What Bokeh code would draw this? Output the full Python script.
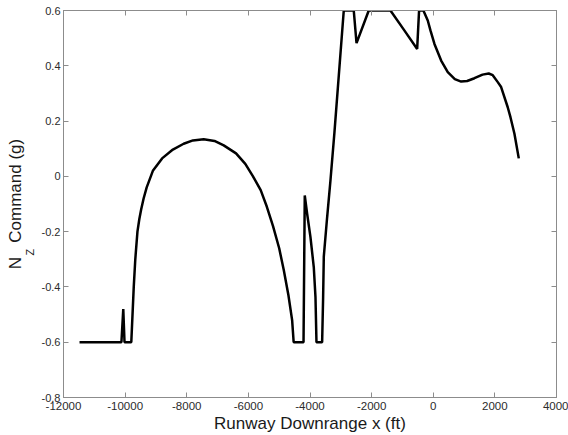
from bokeh.plotting import figure
from bokeh.models import LinearAxis, FixedTicker, Range1d, Title
from bokeh.embed import file_html
from bokeh.resources import INLINE

# Runway downrange x (ft) and Nz command (g)
x_ft = [-11480, -10120, -10060, -10020, -9800, -9760, -9720, -9670, -9600, -9540,
        -9480, -9400, -9300, -9100, -8800, -8450, -8100, -7800, -7450, -7100,
        -6800, -6400, -6100, -5850, -5600, -5400, -5200, -5000, -4850, -4700,
        -4580, -4530, -4210, -4170, -4092, -3985, -3877, -3822, -3790, -3606,
        -3574, -3552, -3444, -3336, -3206, -2904, -2580, -2490, -2093, -1389,
        -950, -522, -460, -320, -178, -91, 39, 256, 471, 700,
        905, 1100, 1337, 1600, 1800, 1931, 2100, 2203, 2417, 2506,
        2635, 2776]
nz_cmd = [-0.6, -0.6, -0.48, -0.6, -0.6, -0.5, -0.4, -0.3, -0.2, -0.155,
          -0.12, -0.08, -0.04, 0.02, 0.065, 0.097, 0.118, 0.13, 0.134, 0.128,
          0.112, 0.083, 0.045, 0.0, -0.05, -0.11, -0.18, -0.26, -0.34, -0.43,
          -0.52, -0.6, -0.6, -0.069, -0.136, -0.22, -0.329, -0.437, -0.6, -0.6,
          -0.437, -0.29, -0.148, -0.015, 0.16, 0.6, 0.6, 0.482, 0.6, 0.6,
          0.53, 0.461, 0.6, 0.6, 0.564, 0.528, 0.479, 0.419, 0.377, 0.352,
          0.343, 0.345, 0.355, 0.368, 0.372, 0.366, 0.34, 0.323, 0.25, 0.214,
          0.154, 0.065]

x_ticks = [-12000, -10000, -8000, -6000, -4000, -2000, 0, 2000, 4000]
x_tick_labels = ["-12000", "-10000", "-8000", "-6000", "-4000", "-2000", "0", "2000", "4000"]
y_ticks = [-0.8, -0.6, -0.4, -0.2, 0, 0.2, 0.4, 0.6]
y_tick_labels = ["-0.8", "-0.6", "-0.4", "-0.2", "0", "0.2", "0.4", "0.6"]

FONT = "Liberation Sans"
GREY = "#8c8c8c"
TXT = "#2b2b2b"
LBL = "#1a1a1a"

p = figure(width=568, height=435, output_backend="svg", toolbar_location=None,
           x_range=Range1d(-12000, 4000), y_range=Range1d(-0.8, 0.6),
           min_border_left=63, min_border_right=12, min_border_top=10, min_border_bottom=38,
           background_fill_color="white", border_fill_color="white")
p.xgrid.visible = False
p.ygrid.visible = False
p.outline_line_color = GREY
p.outline_line_width = 1

def style_axis(ax, ticks, labels, show):
    ax.ticker = FixedTicker(ticks=ticks)
    ax.major_label_overrides = {t: (l if show else "") for t, l in zip(ticks, labels)}
    ax.axis_line_color = GREY
    ax.major_tick_line_color = GREY
    ax.major_tick_in = 5
    ax.major_tick_out = 0
    ax.minor_tick_line_color = None
    ax.major_label_text_font = FONT
    ax.major_label_text_color = TXT
    ax.major_label_text_font_size = "11.5px" if show else "1px"
    ax.major_label_standoff = 4 if show else 0

style_axis(p.xaxis[0], x_ticks, x_tick_labels, True)
style_axis(p.yaxis[0], y_ticks, y_tick_labels, True)
p.yaxis[0].major_label_standoff = 3
p.yaxis[0].major_label_text_font_size = "11px"

p.xaxis[0].axis_label = "Runway Downrange x (ft)"
p.xaxis[0].axis_label_standoff = 1
p.xaxis[0].axis_label_text_font = FONT
p.xaxis[0].axis_label_text_font_size = "17px"
p.xaxis[0].axis_label_text_font_style = "normal"
p.xaxis[0].axis_label_text_color = LBL

top_ax = LinearAxis()
style_axis(top_ax, x_ticks, x_tick_labels, False)
p.add_layout(top_ax, "above")
right_ax = LinearAxis()
style_axis(right_ax, y_ticks, y_tick_labels, False)
p.add_layout(right_ax, "right")

p.line(x_ft, nz_cmd, line_color="black", line_width=2.5)

# y axis label with subscript: "N_Z Command (g)"
z_title = Title(text="Z", align="left", offset=142, standoff=5,
                text_font=FONT, text_font_size="11px", text_font_style="normal",
                text_color=LBL)
main_title = Title(text="N\u00a0\u00a0\u00a0Command (g)", align="center", standoff=-10,
                   text_font=FONT, text_font_size="17px", text_font_style="normal",
                   text_color=LBL)
p.add_layout(z_title, "left")
p.add_layout(main_title, "left")

open("out.html", "w").write(file_html(p, INLINE))
